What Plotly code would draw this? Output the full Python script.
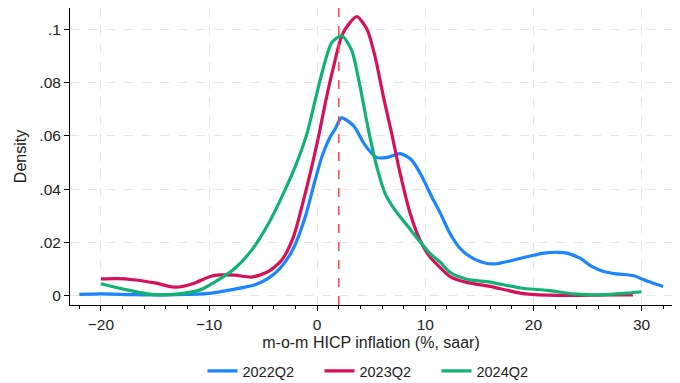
import plotly.graph_objects as go

# 2022Q2 density
x_2022 = [-22, -20, -17, -14, -12, -10, -7.6, -5.74, -4.5, -3.42, -2.19, -1.1, -0.19, 0.43, 1.2,
          1.67, 2.25, 3.36, 4.44, 5.52, 6.6, 7.68, 8.76, 9.7, 10.6, 11.4, 12.2, 13.2, 14.5, 15.7,
          16.6, 18.2, 19.7, 21, 22.2, 23.1, 24.3, 25.4, 26.5, 27.7, 29.3, 30.2, 31.1, 32]
y_2022 = [0.0005, 0.0007, 0.0004, 0.0003, 0.0005, 0.0009, 0.0025, 0.0041, 0.0066, 0.0103, 0.0178,
          0.0296, 0.0433, 0.052, 0.0595, 0.0626, 0.0667, 0.0638, 0.0564, 0.0518, 0.052, 0.0533,
          0.0508, 0.0446, 0.0371, 0.0309, 0.024, 0.0178, 0.0138, 0.0121, 0.012, 0.0134, 0.0149,
          0.016, 0.0163, 0.016, 0.0141, 0.011, 0.0091, 0.0082, 0.0075, 0.006, 0.0047, 0.0035]

# 2023Q2 density
x_2023 = [-20, -18.5, -17, -15, -13.1, -11.5, -9.9, -9, -7.6, -6.04, -4.5, -3.27, -2.19, -1.42,
          -0.65, 0.12, 0.74, 1.5, 2.28, 3.05, 3.67, 4.6, 5.37, 6.14, 6.9, 7.68, 8.6, 9.5, 10.4,
          11.4, 12.3, 13.85, 16, 18.8, 21.3, 24, 27, 29.2]
y_2023 = [0.0063, 0.0064, 0.006, 0.0048, 0.0032, 0.0045, 0.0072, 0.0078, 0.0077, 0.007, 0.0091,
          0.0134, 0.0221, 0.0333, 0.0458, 0.0595, 0.072, 0.0856, 0.0975, 0.1025, 0.1047, 0.1,
          0.0894, 0.0744, 0.0607, 0.0458, 0.0309, 0.0209, 0.0147, 0.0105, 0.0072, 0.005, 0.0035,
          0.001, 0.0002, 0.0001, 0.0003, 0.0003]

# 2024Q2 density
x_2024 = [-20, -17.6, -15.1, -13, -10.8, -9, -7.6, -6.04, -4.5, -3.27, -2.04, -0.95, -0.19, 0.58,
          1.36, 2.28, 3.2, 3.98, 4.75, 5.52, 6.29, 7.2, 8.3, 9.5, 10.4, 11.4, 12.3, 13.85, 16,
          18.8, 21.3, 23.7, 25.6, 28.7, 30]
y_2024 = [0.0045, 0.0022, 0.0004, 0.0006, 0.0022, 0.0063, 0.0103, 0.0172, 0.0271, 0.0371, 0.0483,
          0.0607, 0.0732, 0.0856, 0.095, 0.0975, 0.0919, 0.0782, 0.062, 0.0483, 0.0383, 0.0321,
          0.0265, 0.0203, 0.016, 0.0125, 0.0088, 0.0062, 0.0051, 0.0029, 0.002, 0.0007, 0.0003,
          0.001, 0.0015]

series_names = ["2022Q2", "2023Q2", "2024Q2"]
series_colors = ["#1A85FF", "#D41159", "#11B274"]

y_tickvals = [0, 0.02, 0.04, 0.06, 0.08, 0.1]
y_ticktext = ["0", ".02", ".04", ".06", ".08", ".1"]
x_tickvals = [-20, -10, 0, 10, 20, 30]
vline_x = 2

fig = go.Figure()
for xs, ys, name, col in zip([x_2022, x_2023, x_2024], [y_2022, y_2023, y_2024],
                             series_names, series_colors):
    fig.add_trace(go.Scatter(x=xs, y=ys, mode="lines", name=name,
                             line=dict(color=col, width=3.2, shape="spline", smoothing=0.7)))

fig.add_shape(type="line", x0=vline_x, x1=vline_x, xref="x", y0=0, y1=1, yref="paper",
              line=dict(color="#FF4D4D", width=1.6, dash="dash"))

font_family = "Liberation Sans, Arial, sans-serif"
fig.update_layout(
    width=672, height=375,
    margin=dict(l=62, r=8, t=0, b=78, autoexpand=False),
    plot_bgcolor="white", paper_bgcolor="white",
    font=dict(family=font_family, size=15, color="#222"),
    showlegend=True,
    legend=dict(orientation="h", x=0.5116, xanchor="center", y=-0.222,
                yanchor="middle", font=dict(size=14.5), entrywidth=72, itemwidth=30),
)
fig.update_xaxes(
    range=[-22.86, 32.82], tickvals=x_tickvals, showline=True, linecolor="black", linewidth=1,
    ticks="outside", ticklen=5, tickcolor="black", zeroline=False,
    showgrid=True, gridcolor="#E6E6E6", griddash="dash", gridwidth=1,
    minor=dict(dtick=2, tick0=0, ticks="outside", ticklen=3, tickcolor="black", showgrid=False),
    title=dict(text="m-o-m HICP inflation (%, saar)", standoff=5, font=dict(size=16)),
    tickfont=dict(size=15.5),
)
fig.update_yaxes(
    range=[-0.00347, 0.1079], tickvals=y_tickvals, ticktext=y_ticktext, showline=True,
    linecolor="black", linewidth=1, ticks="outside", ticklen=5, tickcolor="black", zeroline=False,
    showgrid=True, gridcolor="#E6E6E6", griddash="dash", gridwidth=1,
    title=dict(text="Density", standoff=8, font=dict(size=16)),
    tickfont=dict(size=15.5),
)

fig.write_html("out.html")
